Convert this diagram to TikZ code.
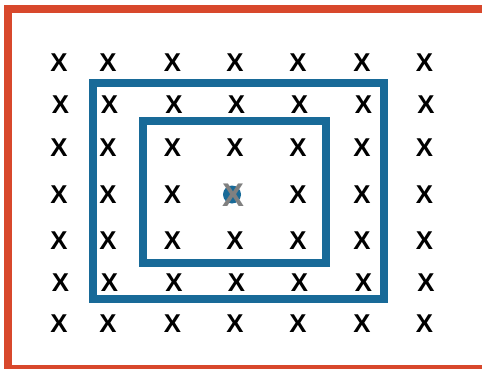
\documentclass[tikz,border=0pt]{standalone}
\usepackage{fontspec}
\setmainfont{Liberation Sans}
\usetikzlibrary{calc}

\definecolor{framered}{RGB}{216,72,44}
\definecolor{boxblue}{RGB}{24,106,152}

\begin{document}
\begin{tikzpicture}[x=0.03cm, y=-0.03cm, line join=miter]
\tikzset{frame/.style={draw=framered, line width=0.24cm}, box/.style={draw=boxblue, line width=0.24cm}, cross/.style={inner sep=0pt, font=\bfseries\fontsize{22}{22}\selectfont}}

\useasboundingbox (0,0) rectangle (482,369);

% frame (open on the right)
\draw[frame] (482,9) -- (8,9) -- (8,369) -- (482,369);

% boxes
\draw[box] (92.5,83.3) rectangle (383.5,299);
\draw[box] (143,121) rectangle (325.5,262.5);

% grid of crosses
\foreach \c/\xx in {1/59,2/108,3/172.5,4/235,5/298,6/362,7/424.5}{
  \foreach \r/\yy/\dx in {1/62.5/0,2/105/1.5,3/148/0,4/195/0,5/241/0,6/282.5/1.5,7/324/0}{
    \ifnum\r\c=44 \else
      \node[cross] (x\r\c) at (\xx+\dx,\yy) {X};
    \fi
  }
}

% centre point
\fill[boxblue] (232,194.5) circle (9);
\node[cross, text=gray, font=\bfseries\fontsize{28}{28}\selectfont] (x44) at (233,195.5) {X};
\end{tikzpicture}
\end{document}
